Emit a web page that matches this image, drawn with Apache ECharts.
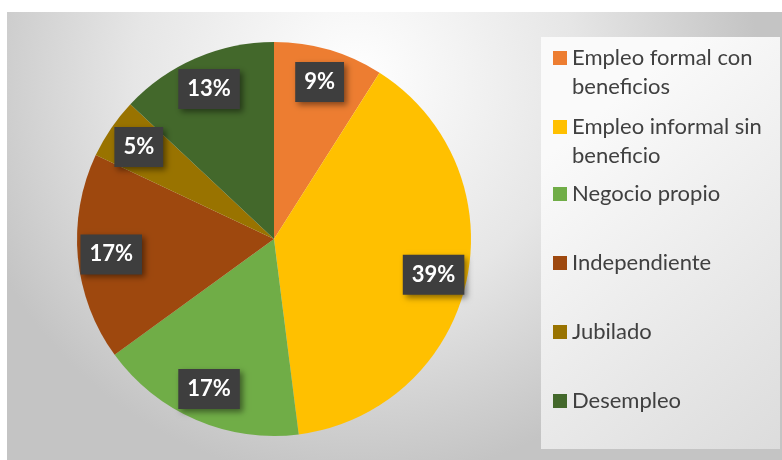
<!DOCTYPE html>
<html>
<head>
<meta charset="utf-8">
<title>Situación laboral</title>
<style>
  html, body { margin: 0; padding: 0; background: #fff; }
  #chart { width: 782px; height: 460px; }
</style>
<script src="https://cdn.jsdelivr.net/npm/echarts@6/dist/echarts.min.js"></script>
</head>
<body>
<div id="chart"></div>
<script>
var categories = ['Empleo formal con beneficios', 'Empleo informal sin beneficio', 'Negocio propio',
                  'Independiente', 'Jubilado', 'Desempleo'];
var values = [9, 39, 17, 17, 5, 13];   // %
var colors = ['#ED7D31', '#FFC000', '#70AD47', '#9E480E', '#997300', '#43682B'];

var myChart = echarts.init(document.getElementById('chart'));

var pieData = categories.map(function (c, i) {
  return { name: c, value: values[i], itemStyle: { color: colors[i] } };
});

// wrap long legend names like Excel does; the leading empty line keeps
// the colour square next to the first line
function wrapName(name) {
  if (name.length > 16) {
    var k = name.lastIndexOf(' ');
    return '\n' + name.slice(0, k) + '\n' + name.slice(k + 1);
  }
  return name;
}

var legendFont = { fontFamily: 'Lato', fontSize: 22, color: '#404040', lineHeight: 29 };

var option = {
  animation: false,
  graphic: [
    {
      type: 'rect', z: -10, silent: true,
      shape: { x: 7, y: 12, width: 775, height: 448 },
      style: {
        fill: new echarts.graphic.RadialGradient(0.45, 0.15, 0.9, [
          { offset: 0, color: '#ffffff' },
          { offset: 0.55, color: '#e6e6e6' },
          { offset: 1, color: '#c4c4c4' }
        ])
      }
    },
    {
      type: 'rect', z: -9, silent: true,
      shape: { x: 541, y: 37, width: 239, height: 412 },
      style: {
        fill: new echarts.graphic.LinearGradient(0, 0.3, 1, 1, [
          { offset: 0, color: '#fafafa' },
          { offset: 1, color: '#dcdcdc' }
        ])
      }
    }
  ],
  legend: [
    {
      orient: 'vertical',
      left: 553, top: 14.5, padding: 0,
      itemWidth: 14, itemHeight: 14, itemGap: -18,
      icon: 'rect',
      textStyle: legendFont,
      formatter: wrapName,
      data: categories.slice(0, 2)
    },
    {
      orient: 'vertical',
      left: 553, top: 179.5, padding: 0,
      itemWidth: 14, itemHeight: 14, itemGap: 40,
      icon: 'rect',
      textStyle: legendFont,
      data: categories.slice(2)
    }
  ],
  series: [
    {
      name: 'pie',
      type: 'pie',
      center: [274, 239],
      radius: 197,
      startAngle: 90,
      clockwise: true,
      label: { show: false },
      labelLine: { show: false },
      emphasis: { disabled: true },
      data: pieData
    },
    {
      // ring used only to place the % labels near the rim
      name: 'labels',
      type: 'pie',
      center: [274, 239],
      radius: [124, 197],
      startAngle: 90,
      clockwise: true,
      silent: true,
      itemStyle: { color: 'rgba(0,0,0,0)' },
      labelLine: { show: false },
      label: {
        show: true,
        position: 'inside',
        formatter: '{c}%',
        fontFamily: 'Lato',
        fontWeight: 'bold',
        fontSize: 22,
        lineHeight: 22,
        color: '#ffffff',
        backgroundColor: '#3e3e3e',
        padding: [9, 9, 9, 9],
        shadowColor: 'rgba(0,0,0,0.45)',
        shadowBlur: 6,
        shadowOffsetX: 3,
        shadowOffsetY: 3
      },
      data: categories.map(function (c, i) { return { name: c, value: values[i] }; })
    }
  ]
};

myChart.setOption(option);
</script>
</body>
</html>
